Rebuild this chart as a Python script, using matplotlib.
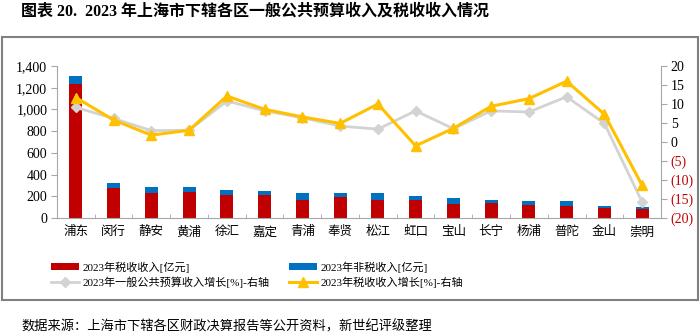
import matplotlib.pyplot as plt
from matplotlib.patches import Rectangle
from matplotlib.ticker import FuncFormatter
import numpy as np

plt.rcParams['font.family'] = ['Liberation Serif', 'Noto Sans CJK SC', 'DejaVu Sans']

districts = ["浦东", "闵行", "静安", "黄浦", "徐汇", "嘉定", "青浦", "奉贤",
             "松江", "虹口", "宝山", "长宁", "杨浦", "普陀", "金山", "崇明"]
# 税收收入与非税收入（亿元）
tax_rev = [1238, 279, 233, 236, 217, 217, 169, 193,
           169, 162, 132, 141, 119, 110, 89, 83]
nontax_rev = [67, 46, 55, 46, 37, 34, 64, 40,
              60, 37, 49, 28, 34, 43, 25, 18]
# 增长率（%）
budget_growth = [9.1, 6.2, 3.0, 3.1, 10.8, 8.2, 6.4, 4.2,
                 3.4, 8.2, 3.5, 8.2, 7.9, 11.9, 4.9, -15.8]
tax_growth = [11.7, 5.8, 1.8, 3.1, 12.1, 8.6, 6.6, 4.9,
              10.0, -1.0, 3.6, 9.4, 11.4, 16.0, 7.3, -11.4]

red = "#C00000"
blue = "#0070C0"
gray = "#D3D3D3"
gold = "#FFC000"
axis_gray = "#A6A6A6"

fig = plt.figure(figsize=(7, 3.35), dpi=100)
ax = fig.add_axes([0.0814, 0.349, 0.8629, 0.454])
x = np.arange(len(districts))

b1 = ax.bar(x, tax_rev, width=0.35, color=red, label="2023年税收收入[亿元]")
b2 = ax.bar(x, nontax_rev, width=0.35, bottom=tax_rev, color=blue,
            label="2023年非税收入[亿元]")
ax.set_xlim(-0.5, len(districts) - 0.5)
ax.set_ylim(0, 1400)
ax.set_yticks(range(0, 1401, 200))
ax.yaxis.set_major_formatter(FuncFormatter(lambda v, p: f"{int(v):,}"))
ax.set_xticks(x)
ax.set_xticklabels(districts, fontsize=9)
ax.set_xticks(np.arange(-0.5, len(districts), 1), minor=True)
ax.tick_params(axis="x", which="major", length=0, pad=6)
ax.tick_params(axis="x", which="minor", length=3, direction="in", color=axis_gray)
ax.tick_params(axis="y", labelsize=10, length=4, color=axis_gray, pad=3)
for s in ["top", "right"]:
    ax.spines[s].set_visible(False)
for s in ["left", "bottom"]:
    ax.spines[s].set_color(axis_gray)

ax2 = ax.twinx()
l1, = ax2.plot(x, budget_growth, color=gray, lw=2, marker="D", ms=5,
               label="2023年一般公共预算收入增长[%]-右轴")
l2, = ax2.plot(x, tax_growth, color=gold, lw=2.2, marker="^", ms=7,
               label="2023年税收收入增长[%]-右轴")
ax2.set_ylim(-20, 20)
ax2.set_yticks(range(-20, 21, 5))
ax2.yaxis.set_major_formatter(FuncFormatter(
    lambda v, p: f"({abs(int(v))})" if v < 0 else f"{int(v)}"))
ax2.tick_params(axis="y", labelsize=10, length=4, color=axis_gray, pad=3)
for lab, v in zip(ax2.get_yticklabels(), range(-20, 21, 5)):
    if v < 0:
        lab.set_color(red)
for s in ["top", "left", "bottom"]:
    ax2.spines[s].set_visible(False)
ax2.spines["right"].set_color(axis_gray)

# 图例分两列单独放置
leg_kw = dict(loc="upper left", frameon=False, fontsize=8,
              handlelength=2.6, handleheight=0.6,
              labelspacing=0.35, handletextpad=0.3)
leg1 = fig.legend(handles=[b1, l1], bbox_to_anchor=(0.058, 0.25), **leg_kw)
leg2 = fig.legend(handles=[b2, l2], bbox_to_anchor=(0.398, 0.25), **leg_kw)

# 外框
fig.patches.append(Rectangle((0.003, 0.104), 0.994, 0.786, transform=fig.transFigure,
                             fill=False, edgecolor="#808080", lw=1.5))

fig.text(0.03, 0.965, "图表 20.  2023 年上海市下辖各区一般公共预算收入及税收收入情况",
         fontsize=11.5, fontweight="bold", va="center", ha="left")
fig.text(0.03, 0.025, "数据来源：上海市下辖各区财政决算报告等公开资料，新世纪评级整理",
         fontsize=9.5, va="center", ha="left")

fig.savefig("out.png", dpi=100)
